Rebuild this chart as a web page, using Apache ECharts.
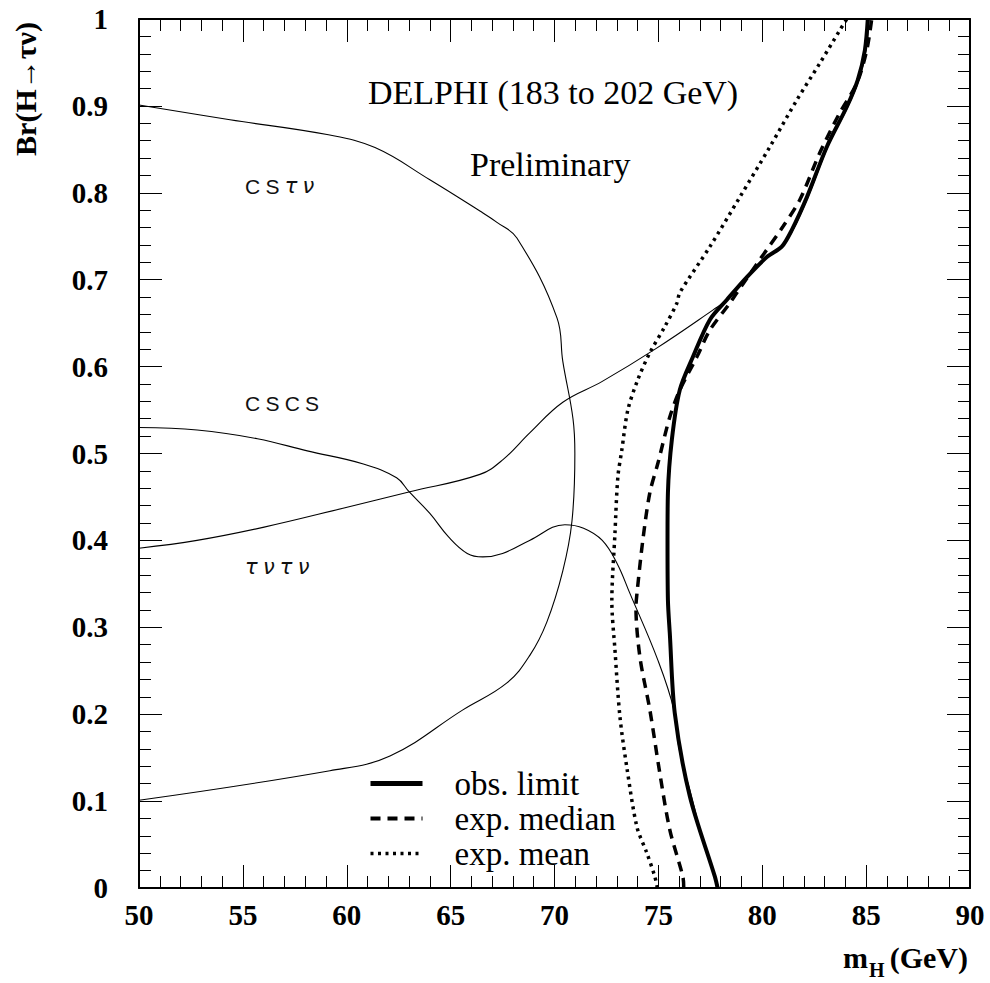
<!DOCTYPE html>
<html>
<head>
<meta charset="utf-8">
<title>DELPHI Br(H→τν) mass limits</title>
<script src="https://cdn.jsdelivr.net/npm/echarts@6/dist/echarts.min.js"></script>
<style>
  html, body { margin: 0; padding: 0; background: #fff; }
  #main { width: 990px; height: 983px; }
</style>
</head>
<body>
<div id="main"></div>
<script>
// axis ticks
var massTicks = [50, 55, 60, 65, 70, 75, 80, 85, 90];
var brTicks = [0, 0.1, 0.2, 0.3, 0.4, 0.5, 0.6, 0.7, 0.8, 0.9, 1];

// limit curves, [mH (GeV), Br(H->tau nu)]
var obsLimit = [
  [77.85, 0], [77.72, 0.013], [76.52, 0.105], [75.79, 0.201], [75.55, 0.293],
  [75.46, 0.331], [75.44, 0.40], [75.46, 0.455], [75.65, 0.516], [76.03, 0.573],
  [76.66, 0.611], [77.48, 0.654], [78.30, 0.677], [79.26, 0.703], [80.22, 0.726],
  [80.94, 0.738], [81.42, 0.757], [82.15, 0.795], [83.11, 0.853], [84.07, 0.899],
  [84.60, 0.930], [84.94, 0.964], [85.08, 1.0]
];
var expMedian = [
  [76.22, 0], [76.18, 0.013], [75.55, 0.067], [75.07, 0.132], [74.59, 0.205],
  [74.11, 0.266], [73.92, 0.323], [73.97, 0.339], [74.25, 0.400], [74.59, 0.455],
  [74.98, 0.489], [75.55, 0.542], [76.03, 0.573], [76.85, 0.611], [77.48, 0.642],
  [78.44, 0.673], [78.78, 0.685], [79.88, 0.723], [80.99, 0.761], [81.81, 0.792],
  [82.77, 0.846], [83.73, 0.892], [84.55, 0.926], [85.03, 0.964], [85.27, 1.0]
];
var expMean = [
  [74.95, 0], [74.83, 0.013], [74.45, 0.040], [73.97, 0.070], [73.48, 0.139],
  [73.15, 0.197], [72.91, 0.274], [72.76, 0.33], [72.91, 0.408], [73.05, 0.473],
  [73.24, 0.504], [73.53, 0.550], [74.01, 0.585], [74.59, 0.616], [75.31, 0.646],
  [75.89, 0.673], [76.03, 0.685], [77.48, 0.738], [78.92, 0.795], [80.37, 0.853],
  [81.67, 0.907], [82.77, 0.949], [83.73, 0.987], [84.07, 1.0]
];

// channel boundaries (thin lines)
var csTauNu = [
  [50, 0.901], [54.38, 0.884], [59.05, 0.867], [61.36, 0.852], [64.0, 0.815],
  [66.41, 0.779], [67.23, 0.766], [68.19, 0.748], [70.12, 0.656], [70.40, 0.606],
  [70.89, 0.540], [70.98, 0.500], [70.84, 0.422], [70.40, 0.365], [69.63, 0.306],
  [68.82, 0.268], [67.71, 0.236], [65.59, 0.205], [62.08, 0.152], [59.19, 0.135],
  [50, 0.101]
];
var csCs = [
  [50, 0.530], [52.8, 0.527], [55.7, 0.517], [58.1, 0.503], [60.8, 0.488],
  [62.4, 0.472], [63.0, 0.456], [64.0, 0.431], [64.9, 0.404], [65.8, 0.385],
  [66.55, 0.381], [67.5, 0.385], [68.8, 0.400], [70.5, 0.418], [71.4, 0.414],
  [72.3, 0.400], [73.0, 0.374], [73.63, 0.339], [74.98, 0.262], [75.75, 0.205],
  [76.0, 0.16], [76.6, 0.105], [77.2, 0.05], [77.92, 0]
];
var tauNuTauNu = [
  [50, 0.391], [52.79, 0.400], [55.97, 0.415], [59.82, 0.437], [63.04, 0.456],
  [66.41, 0.476], [67.52, 0.493], [68.82, 0.524], [70.40, 0.559], [72.3, 0.583],
  [74.9, 0.621], [77.62, 0.665], [78.37, 0.678], [79.33, 0.704], [80.29, 0.727],
  [81.0, 0.740], [81.5, 0.758], [82.22, 0.796], [83.18, 0.854], [84.14, 0.900],
  [84.67, 0.931], [85.0, 0.965], [85.14, 1.0]
];

var seriesNames = ['obs. limit', 'exp. median', 'exp. mean'];
var channelLabels = ['CSτν', 'CSCS', 'τντν'];

var serif = 'Liberation Serif';
var chart = echarts.init(document.getElementById('main'), null, { renderer: 'svg' });

function thin(data) {
  return {
    type: 'line', data: data, symbol: 'none', smooth: 0.4, silent: true,
    lineStyle: { color: '#000', width: 1.1 }, z: 2
  };
}

// spaced-out channel label, Greek letters in italics
function channelText(s) {
  var out = '';
  for (var i = 0; i < s.length; i++) {
    var ch = s[i];
    var greek = /[α-ω]/.test(ch);
    out += '{' + (greek ? 'g' : 'c') + '|' + ch + '}';
    if (i < s.length - 1) out += '{c|\u2005}';
  }
  return out;
}
var labelRich = {
  c: { fontFamily: 'Liberation Sans', fontSize: 21, fill: '#111' },
  g: { fontFamily: 'DejaVu Sans', fontStyle: 'italic', fontSize: 21, fill: '#111' }
};

var tickStyle = { color: '#000', width: 1 };
var axisLine = { show: true, onZero: false, lineStyle: { color: '#000', width: 2 } };

var option = {
  animation: false,
  grid: { left: 139, right: 20, top: 19, bottom: 95 },
  xAxis: [
    {
      type: 'value', min: massTicks[0], max: massTicks[massTicks.length - 1],
      interval: massTicks[1] - massTicks[0],
      axisLine: axisLine,
      axisTick: { inside: true, length: 23, lineStyle: tickStyle },
      minorTick: { show: true, splitNumber: 5, length: 12, lineStyle: tickStyle },
      splitLine: { show: false },
      axisLabel: {
        margin: 12, color: '#000', fontFamily: serif, fontWeight: 'bold', fontSize: 29,
        showMinLabel: true, showMaxLabel: true
      }
    },
    {
      type: 'value', position: 'top', min: massTicks[0], max: massTicks[massTicks.length - 1],
      interval: massTicks[1] - massTicks[0],
      axisLine: axisLine,
      axisTick: { inside: true, length: 23, lineStyle: tickStyle },
      minorTick: { show: true, splitNumber: 5, length: 12, lineStyle: tickStyle },
      splitLine: { show: false },
      axisLabel: { show: false }
    }
  ],
  yAxis: [
    {
      type: 'value', min: brTicks[0], max: brTicks[brTicks.length - 1],
      interval: brTicks[1] - brTicks[0],
      axisLine: axisLine,
      axisTick: { inside: true, length: 23, lineStyle: tickStyle },
      minorTick: { show: true, splitNumber: 5, length: 12, lineStyle: tickStyle },
      splitLine: { show: false },
      axisLabel: {
        margin: 31, color: '#000', fontFamily: serif, fontWeight: 'bold', fontSize: 29,
        formatter: function (v) { return String(Math.round(v * 10) / 10); }
      }
    },
    {
      type: 'value', position: 'right', min: brTicks[0], max: brTicks[brTicks.length - 1],
      interval: brTicks[1] - brTicks[0],
      axisLine: axisLine,
      axisTick: { inside: true, length: 23, lineStyle: tickStyle },
      minorTick: { show: true, splitNumber: 5, length: 12, lineStyle: tickStyle },
      splitLine: { show: false },
      axisLabel: { show: false }
    }
  ],
  legend: {
    orient: 'vertical', left: 368, top: 766, padding: 0, itemGap: 0,
    itemWidth: 52, itemHeight: 14, selectedMode: false,
    itemStyle: { opacity: 0 },
    textStyle: {
      fontFamily: serif, fontSize: 33, color: '#000', lineHeight: 13,
      padding: [0, 0, 22, 27]
    },
    data: [
      { name: seriesNames[0], lineStyle: { width: 5, type: 'solid' } },
      { name: seriesNames[1], lineStyle: { width: 4, type: [10, 7] } },
      { name: seriesNames[2], lineStyle: { width: 3.5, type: [3, 4.5] } }
    ]
  },
  graphic: [
    {
      type: 'text', left: 368, top: 75,
      style: { text: 'DELPHI (183 to 202 GeV)', fontFamily: serif, fontSize: 34, fill: '#000' }
    },
    {
      type: 'text', left: 470, top: 147,
      style: { text: 'Preliminary', fontFamily: serif, fontSize: 34, fill: '#000' }
    },
    { type: 'text', x: 245, y: 186, style: { text: channelText(channelLabels[0]), rich: labelRich, verticalAlign: 'middle' } },
    { type: 'text', x: 245, y: 403, style: { text: channelText(channelLabels[1]), rich: labelRich, verticalAlign: 'middle' } },
    { type: 'text', x: 245, y: 567, style: { text: channelText(channelLabels[2]), rich: labelRich, verticalAlign: 'middle' } },
    {
      type: 'text', x: 25, y: 89, rotation: Math.PI / 2,
      style: {
        text: 'Br(H→τν)', fontFamily: serif, fontWeight: 'bold', fontSize: 30, fill: '#000',
        align: 'center', verticalAlign: 'middle'
      }
    },
    {
      type: 'text', x: 968, y: 957,
      style: { text: '(GeV)', fontFamily: serif, fontWeight: 'bold', fontSize: 30, fill: '#000', align: 'right', verticalAlign: 'middle' }
    },
    {
      type: 'text', x: 868, y: 957,
      style: { text: 'm', fontFamily: serif, fontWeight: 'bold', fontSize: 30, fill: '#000', align: 'right', verticalAlign: 'middle' }
    },
    {
      type: 'text', x: 869, y: 970,
      style: { text: 'H', fontFamily: serif, fontWeight: 'bold', fontSize: 20, fill: '#000', align: 'left', verticalAlign: 'middle' }
    }
  ],
  series: [
    thin(csTauNu),
    thin(csCs),
    thin(tauNuTauNu),
    {
      name: seriesNames[2], type: 'line', data: expMean, symbol: 'none', smooth: 0.3, z: 3,
      itemStyle: { color: '#000' },
      lineStyle: { color: '#000', width: 3.5, type: [3, 4.5], cap: 'butt' }
    },
    {
      name: seriesNames[1], type: 'line', data: expMedian, symbol: 'none', smooth: 0.3, z: 3,
      itemStyle: { color: '#000' },
      lineStyle: { color: '#000', width: 3.5, type: [10, 7], cap: 'butt' }
    },
    {
      name: seriesNames[0], type: 'line', data: obsLimit, symbol: 'none', smooth: 0.3, z: 4,
      itemStyle: { color: '#000' },
      lineStyle: { color: '#000', width: 4 }
    }
  ]
};

chart.setOption(option);
</script>
</body>
</html>
